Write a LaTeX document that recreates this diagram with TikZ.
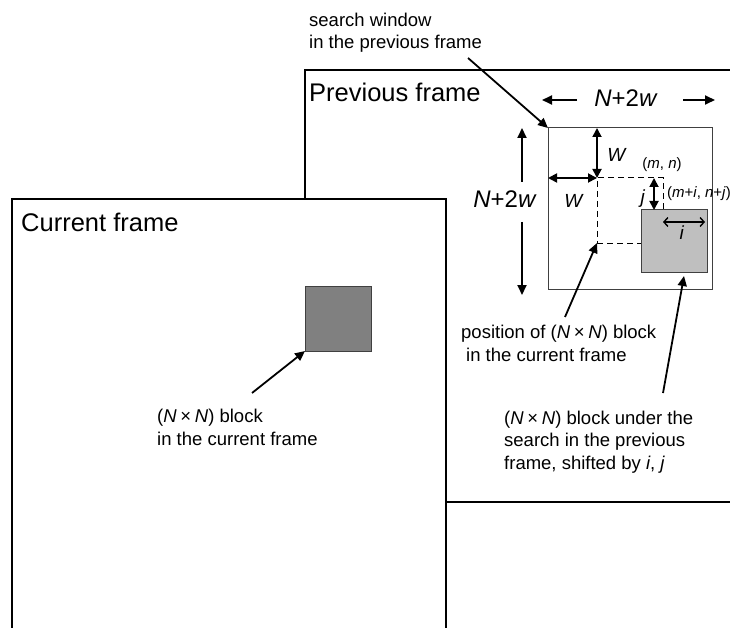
\documentclass[tikz,border=0pt]{standalone}
\usepackage{fontspec}
\setmainfont{Liberation Sans}
\usetikzlibrary{arrows.meta}
\newcommand{\tms}{\hspace{0.2em}×\hspace{0.2em}}
\begin{document}
\begin{tikzpicture}[x=1pt,y=-1pt,
  frame/.style={line width=2.2pt, draw=black},
  lbl/.style={inner sep=0pt, font=\fontsize{18.5}{22.5}\selectfont, align=left},
  titletext/.style={inner sep=0pt, font=\fontsize{25.5}{30}\selectfont},
  dimtext/.style={inner sep=0pt, font=\fontsize{24}{28}\selectfont},
  smalltext/.style={inner sep=0pt, font=\fontsize{15}{18}\selectfont},
  midtext/.style={inner sep=0pt, font=\fontsize{19}{22}\selectfont},
  boxnode/.style={inner sep=0pt, outer sep=0pt, anchor=north west},
  pointer/.style={line width=1.8pt, -{Triangle[length=10pt,width=9pt]}},
  dbl/.style={line width=1.8pt, {Triangle[length=9pt,width=9pt]}-{Triangle[length=9pt,width=9pt]}},
  thindbl/.style={line width=1.4pt, {Straight Barb[length=4pt,width=9pt]}-{Straight Barb[length=4pt,width=9pt]}},
  dashline/.style={line width=1pt, dash pattern=on 6pt off 4pt},
]
\useasboundingbox (0,0) rectangle (730,628);
\clip (0,0) rectangle (730,628);

% frames
\draw[frame] (305,70) rectangle (760,502);
\draw[frame, fill=white] (12,199) rectangle (446,660);

\node[titletext, anchor=base west] (prevtitle) at (309,102) {Previous frame};
\node[titletext, anchor=base west] (curtitle) at (21,232) {Current frame};

% search window and blocks
\node[boxnode, draw=black!75, line width=1pt, minimum width=164pt, minimum height=161pt] (win) at (548,128) {};
\node[boxnode, draw=black, dashline, minimum width=66pt, minimum height=65pt] (pos) at (597,178) {};
\node[boxnode, draw=black!75, line width=1pt, fill=black!25, minimum width=66pt, minimum height=62pt] (blk) at (641,210) {};
\node[boxnode, draw=black!75, line width=1pt, fill=black!50, minimum width=66pt, minimum height=65pt] (cur) at (305,286) {};

% text labels (base anchor = baseline of last line)
\node[lbl, anchor=base west] (swtext) at (309,49) {search window\\in the previous frame};
\node[lbl, anchor=base west] (curtext) at (157,445) {(\textit{N}\tms\textit{N}) block\\in the current frame};
\node[lbl, anchor=base west] (postext) at (461,361) {position of (\textit{N}\tms\textit{N}) block\\\hspace*{5pt}in the current frame};
\node[lbl, anchor=base west] (blktext) at (504,469) {(\textit{N}\tms\textit{N}) block under the\\search in the previous\\frame, shifted by \textit{i}, \textit{j}};

% dimension labels
\node[dimtext] (dimtop) at (626,98) {\textit{N}+2\textit{w}};
\node[dimtext] (dimleft) at (505,199) {\textit{N}+2\textit{w}};
\node[midtext] (wv) at (617,155) {\textit{W}};
\node[midtext] (wh) at (574,201) {\textit{W}};
\node[smalltext] (mn) at (662,165) {(\textit{m}, \textit{n})};
\node[smalltext, anchor=west] (mij) at (667,194) {(\textit{m}+\textit{i}, \textit{n}+\textit{j})};
\node[midtext] (jl) at (643,199) {\textit{j}};
\node[midtext] (il) at (682,233) {\textit{i}};

% coordinates for free ends
\coordinate (swtail) at (468,58);
\coordinate (curtail) at (252,393);
\coordinate (postail) at (565,317);
\coordinate (blktail) at (663,393);
\coordinate (blktip) at (684,276);
\coordinate (dtl) at (577,100);
\coordinate (dtlt) at (542,100);
\coordinate (dtr) at (683,100);
\coordinate (dtrt) at (715,100);
\coordinate (dlu) at (522,182);
\coordinate (dlut) at (522,128);
\coordinate (dld) at (522,222);
\coordinate (dldt) at (522,295);
\coordinate (ja) at (654,178);
\coordinate (jb) at (654,210);
\coordinate (ia) at (663,222);
\coordinate (ib) at (705,222);

% connectors
\draw[pointer] (swtail) -- (win.north west);
\draw[pointer] (curtail) -- (cur.south west);
\draw[pointer] (postail) -- (pos.south west);
\draw[pointer] (blktail) -- (blktip);

\draw[pointer] (dtl) -- (dtlt);
\draw[pointer] (dtr) -- (dtrt);
\draw[pointer] (dlu) -- (dlut);
\draw[pointer] (dld) -- (dldt);

\draw[dbl] (pos.north west |- win.north) -- (pos.north west);
\draw[dbl] (win.west |- pos.north west) -- (pos.north west);
\draw[dbl] (ja) -- (jb);
\draw[thindbl] (ia) -- (ib);
\end{tikzpicture}
\end{document}
